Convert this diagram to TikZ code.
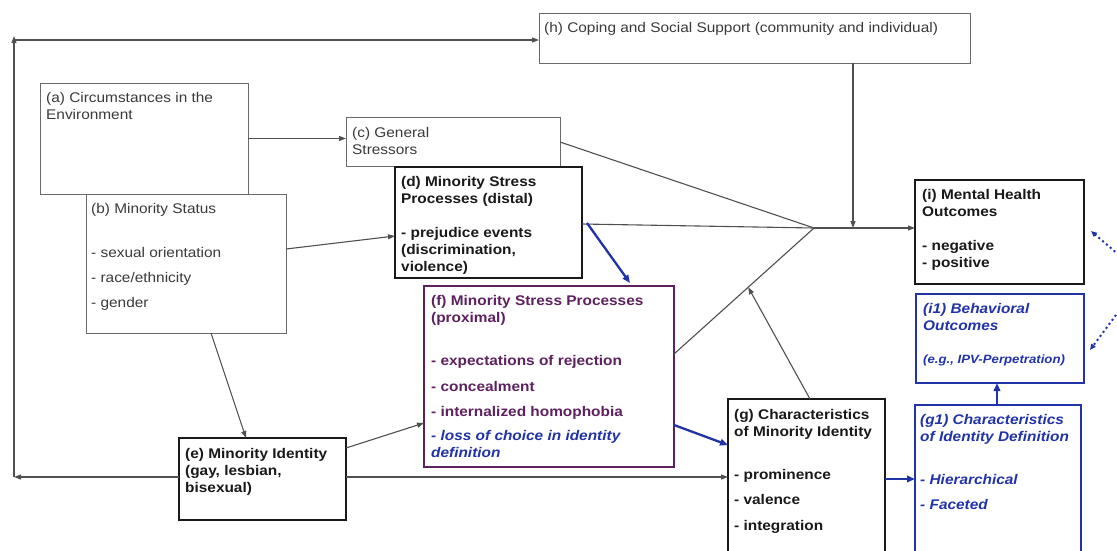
\documentclass[tikz,border=0pt]{standalone}
\usepackage{fontspec}
\setmainfont{Liberation Sans}[FakeStretch=1.1]
\usetikzlibrary{arrows.meta,calc}
\definecolor{tgray}{HTML}{3A3A3A}
\definecolor{lgray}{HTML}{505050}
\definecolor{bgray}{HTML}{6A6A6A}
\definecolor{mpurple}{HTML}{5E2160}
\definecolor{mblue}{HTML}{2233A8}
\newcommand\fsz{\fontsize{14}{17}\selectfont}
\begin{document}
\begin{tikzpicture}[x=1pt,y=-1pt,
  thinbox/.style={draw=bgray, line width=1pt, fill=white, inner sep=0pt, outer sep=0pt, anchor=north west},
  thickbox/.style={draw=black!90, line width=2.4pt, fill=white, inner sep=0pt, outer sep=0pt, anchor=north west},
  purplebox/.style={draw=mpurple, line width=2.4pt, fill=white, inner sep=0pt, outer sep=0pt, anchor=north west},
  bluebox/.style={draw=mblue, line width=2.4pt, fill=white, inner sep=0pt, outer sep=0pt, anchor=north west},
  txt/.style={anchor=north west, inner sep=0pt, align=left, font=\fsz, text=tgray},
  btxt/.style={txt, font=\fsz\bfseries, text=black!90},
  ptxt/.style={txt, font=\fsz\bfseries, text=mpurple},
  bltxt/.style={txt, font=\fsz\bfseries\itshape, text=mblue},
  arr/.style={-{Triangle[length=7pt,width=5pt]}, line width=1.1pt, draw=lgray},
  plain/.style={line width=1.1pt, draw=lgray},
  barr/.style={-{Triangle[length=8pt,width=6.5pt]}, line width=2.3pt, draw=mblue},
  darr/.style={-{Triangle[length=6pt,width=5pt]}, dash pattern=on 2pt off 3pt, line width=2pt, draw=mblue}
]
\useasboundingbox (0,0) rectangle (1117,550);
\clip (0,0) rectangle (1117,550);
\fill[white] (0,0) rectangle (1117,550);

% boxes
\node[thinbox, minimum width=431pt, minimum height=50pt] (h) at (539,13) {};
\node[thinbox, minimum width=208pt, minimum height=111pt] (a) at (40,83) {};
\node[thinbox, minimum width=214pt, minimum height=49pt] (c) at (346,117) {};
\node[thinbox, minimum width=200pt, minimum height=139pt] (b) at (86,194) {};
\node[thickbox, minimum width=187pt, minimum height=111pt] (d) at (395,167) {};
\node[purplebox, minimum width=250pt, minimum height=181pt] (f) at (424,286) {};
\node[thickbox, minimum width=167pt, minimum height=82pt] (e) at (179,438) {};
\node[thickbox, minimum width=157pt, minimum height=175pt] (g) at (728,399) {};
\node[bluebox, minimum width=166pt, minimum height=165pt] (g1) at (915,405) {};
\node[thickbox, minimum width=169pt, minimum height=104pt] (i) at (915,180) {};
\node[bluebox, minimum width=168pt, minimum height=89pt] (i1) at (916,294) {};

% texts
\node[txt] (th) at (544,22) {(h) Coping and Social Support (community and individual)};
\node[txt] (ta) at (46,92) {(a) Circumstances in the\\Environment};
\node[txt] (tc) at (352,127) {(c) General\\Stressors};
\node[txt] (tb) at (91,203) {(b) Minority Status\\[27pt]- sexual orientation\\[8pt]- race/ethnicity\\[8pt]- gender};
\node[btxt] (td) at (401,176) {(d) Minority Stress\\Processes (distal)\\[17pt]- prejudice events\\(discrimination,\\violence)};
\node[ptxt] (tf) at (431,295) {(f) Minority Stress Processes\\(proximal)\\[26pt]- expectations of rejection\\[9pt]- concealment\\[8pt]- internalized homophobia\\[7pt]\textcolor{mblue}{\itshape - loss of choice in identity}\\\textcolor{mblue}{\itshape definition}};
\node[btxt] (te) at (185,448) {(e) Minority Identity\\(gay, lesbian,\\bisexual)};
\node[btxt] (tg) at (734,409) {(g) Characteristics\\of Minority Identity\\[26pt]- prominence\\[8pt]- valence\\[9pt]- integration};
\node[bltxt] (tg1) at (920,414) {(g1) Characteristics\\of Identity Definition\\[26pt]- Hierarchical\\[8pt]- Faceted};
\node[btxt] (ti) at (922,189) {(i) Mental Health\\Outcomes\\[17pt]- negative\\- positive};
\node[bltxt] (ti1) at (923,303) {(i1) Behavioral\\Outcomes\\[16pt]{\fontsize{12}{14}\selectfont (e.g., IPV-Perpetration)}};

% coordinates
\coordinate (J) at (814,228);
\coordinate (cbl) at (14,477);
\coordinate (ctip) at (14,36);
\coordinate (ctl) at (14,40);
\coordinate (fJ) at ($(f.north east)+(0,68)$);
\path (fJ) -- (J) coordinate[pos=0.53] (gtip);
\coordinate (hx) at ($(h.south west)+(314,0)$);
\coordinate (o1) at (1119,255);
\coordinate (o2) at (1119,311);
\coordinate (eR) at ($(e.north east)+(0,39)$);
\coordinate (eL) at ($(e.north west)+(0,39)$);
\coordinate (gR) at ($(g.north east)+(0,80)$);
\coordinate (g1T) at ($(g1.north west)+(82,0)$);

% connectors
\draw[arr] (a.east) -- (a.east -| c.west);
\draw[arr] ($(b.north east)+(0,55)$) -- ($(d.north west)+(0,69)$);
\draw[arr] ($(b.south west)+(125,0)$) -- ($(e.north west)+(67,0)$);
\draw[arr] ($(e.north east)+(0,10)$) -- ($(f.south west)+(0,-44)$);
\draw[arr] (eL) -- (cbl);
\draw[arr] (cbl) -- (ctip);
\draw[arr] (ctl) -- (ctl -| h.west);
\draw[arr] (eR) -- (eR -| g.west);
\draw[plain] ($(c.north east)+(0,25)$) -- (J);
\draw[plain] ($(d.north east)+(0,57)$) -- (J);
\draw[plain] (fJ) -- (J);
\draw[arr] (J) -- (J -| i.west);
\draw[arr] (hx) -- (hx |- J);
\draw[arr] ($(g.north west)+(82,0)$) -- (gtip);
\draw[barr] ($(d.north east)+(5,56)$) -- ($(f.north west)+(206,-3)$);
\draw[barr] ($(f.north east)+(0,139)$) -- ($(g.north west)+(0,46)$);
\draw[barr] (gR) -- (gR -| g1.west);
\draw[barr] (g1T) -- (g1T |- i1.south);
\draw[darr] (o1) -- ($(i.north east)+(7,51)$);
\draw[darr] (o2) -- ($(i1.north east)+(6,56)$);
\end{tikzpicture}
\end{document}
